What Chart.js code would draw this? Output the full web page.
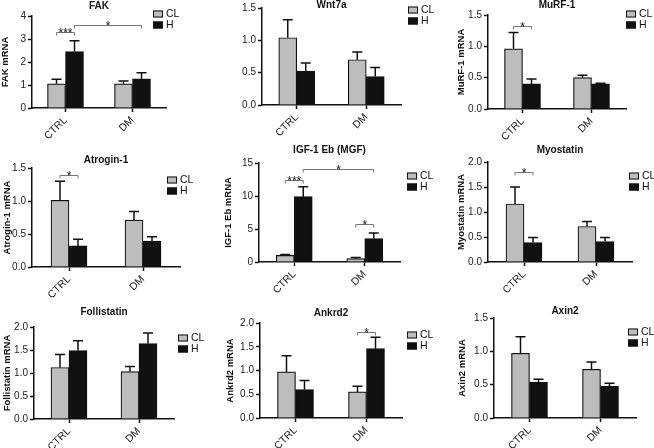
<!DOCTYPE html>
<html>
<head>
<meta charset="utf-8">
<script src="https://cdn.jsdelivr.net/npm/chart.js@4.4.1/dist/chart.umd.min.js"></script>
<style>
  body { margin: 0; background: #fff; }
  #wrap { position: relative; width: 654px; height: 448px; overflow: hidden; }
  canvas { position: absolute; }
</style>
</head>
<body>
<div id="wrap"></div>
<script>
// ---- data ----
const groups = ['CTRL', 'DM'];
const seriesNames = ['CL', 'H'];
const titles = ['FAK', 'Wnt7a', 'MuRF-1', 'Atrogin-1', 'IGF-1 Eb (MGF)', 'Myostatin', 'Follistatin', 'Ankrd2', 'Axin2'];
const yTitles = ['FAK mRNA', '', 'MuRF-1 mRNA', 'Atrogin-1 mRNA', 'IGF-1 Eb mRNA', 'Myostatin mRNA', 'Follistatin mRNA', 'Ankrd2 mRNA', 'Axin2 mRNA'];

// means per panel: [CTRL, DM]
const clMeans = [[1.05, 1.05], [1.04, 0.70], [0.96, 0.50], [1.01, 0.71], [1.0, 0.5], [1.16, 0.71], [1.12, 1.03], [0.97, 0.55], [0.97, 0.73]];
const hMeans  = [[2.45, 1.27], [0.525, 0.44], [0.40, 0.40], [0.32, 0.39], [9.9, 3.55], [0.39, 0.41], [1.49, 1.64], [0.60, 1.46], [0.54, 0.48]];
// SEM (upper error bar length)
const clSem = [[0.20, 0.12], [0.28, 0.12], [0.26, 0.04], [0.29, 0.13], [0.15, 0.2], [0.34, 0.10], [0.28, 0.11], [0.34, 0.12], [0.25, 0.11]];
const hSem  = [[0.47, 0.26], [0.125, 0.14], [0.08, 0.01], [0.10, 0.07], [1.5, 0.85], [0.10, 0.08], [0.21, 0.23], [0.19, 0.24], [0.04, 0.04]];

const yMax = [4, 1.5, 1.5, 1.5, 15, 2, 2, 2, 1.5];
const yStep = [1, 0.5, 0.5, 0.5, 5, 0.5, 0.5, 0.5, 0.5];
const yDecimals = [0, 1, 1, 1, 0, 1, 1, 1, 1];

// significance: [panel, fromGroup, fromSeries, toGroup, toSeries, height, label]
const brackets = [
  [0, 0, 0, 0, 1, 3.3, '***'],
  [0, 0, 1, 1, 1, 3.6, '*'],
  [2, 0, 0, 0, 1, 1.32, '*'],
  [3, 0, 0, 0, 1, 1.39, '*'],
  [4, 0, 0, 0, 1, 12.5, '***'],
  [4, 0, 1, 1, 1, 14.1, '*'],
  [4, 1, 0, 1, 1, 5.8, '*'],
  [5, 0, 0, 0, 1, 1.8, '*'],
  [7, 1, 0, 1, 1, 1.81, '*']
];

// ---- layout (page pixels) ----
// canvases overlap slightly so rotated labels are not clipped
const cells = [[0, 0, 220, 158], [220, 0, 214, 158], [434, 0, 220, 158],
               [0, 145, 220, 160], [220, 145, 214, 160], [434, 145, 220, 160],
               [0, 295, 220, 153], [220, 295, 214, 153], [434, 295, 220, 153]];
// plot area: left, right, top, bottom
const plots = [[32, 166, 16, 108], [262, 401, 7, 105], [488, 626, 15, 109],
               [32, 180, 168, 267], [259, 400, 163, 262], [488, 632, 162, 262],
               [34, 174, 327, 419], [260, 402, 323, 418], [494, 636, 318, 418]];
const titleY = [6, 5, 5, 160, 150, 150, 312, 313, 311];
const yTitleX = [5, 0, 461, 7, 228, 461, 7, 230, 462];
const legendPos = [[153, 14], [408, 10], [626, 14], [167, 180], [407, 176], [629, 176], [178, 338], [407, 335], [628, 332]];

const font = '"Liberation Sans", Arial, sans-serif';
const grey = '#bdbdbd';
const ink = '#111';

const extras = {
  id: 'extras',
  afterDatasetsDraw(chart, args, opts) {
    const p = opts.panel;
    const ctx = chart.ctx;
    const y = chart.scales.y;
    const area = chart.chartArea;
    const [x0, y0] = cells[p];
    ctx.save();

    // error bars
    ctx.strokeStyle = ink;
    ctx.lineWidth = 1.5;
    chart.data.datasets.forEach((ds, di) => {
      chart.getDatasetMeta(di).data.forEach((bar, i) => {
        const top = y.getPixelForValue(ds.data[i] + ds.sem[i]);
        ctx.beginPath();
        ctx.moveTo(bar.x, bar.y);
        ctx.lineTo(bar.x, top);
        ctx.moveTo(bar.x - 5, top);
        ctx.lineTo(bar.x + 5, top);
        ctx.stroke();
      });
    });

    // brackets
    brackets.filter(b => b[0] === p).forEach(b => {
      const a = chart.getDatasetMeta(b[2]).data[b[1]];
      const c = chart.getDatasetMeta(b[4]).data[b[3]];
      const yy = Math.round(y.getPixelForValue(b[5])) + 0.5;
      ctx.strokeStyle = '#777';
      ctx.lineWidth = 1;
      ctx.beginPath();
      ctx.moveTo(a.x, yy + 3);
      ctx.lineTo(a.x, yy);
      ctx.lineTo(c.x, yy);
      ctx.lineTo(c.x, yy + 3);
      ctx.stroke();
      ctx.fillStyle = ink;
      ctx.font = '12px ' + font;
      ctx.textAlign = 'center';
      ctx.textBaseline = 'alphabetic';
      ctx.fillText(b[6], (a.x + c.x) / 2, yy + 4);
    });

    // title
    ctx.fillStyle = ink;
    ctx.font = 'bold 10px ' + font;
    ctx.textAlign = 'center';
    ctx.textBaseline = 'middle';
    ctx.fillText(titles[p], (area.left + area.right) / 2, titleY[p] - y0);

    // legend
    const [lx, ly] = legendPos[p];
    ctx.font = '10.5px ' + font;
    ctx.textAlign = 'left';
    seriesNames.forEach((name, i) => {
      const cy = ly - y0 + i * 11;
      ctx.fillStyle = i === 0 ? grey : ink;
      ctx.fillRect(lx - x0, cy - 3.5, 10, 7);
      ctx.strokeStyle = ink;
      ctx.lineWidth = 1;
      ctx.strokeRect(lx - x0 + 0.5, cy - 3, 9, 6);
      ctx.fillStyle = ink;
      ctx.fillText(name, lx - x0 + 13, cy + 0.5);
    });
    ctx.restore();
  }
};

const wrap = document.getElementById('wrap');
titles.forEach((t, p) => {
  const [x0, y0, w, h] = cells[p];
  const [pl, pr, pt, pb] = plots[p];
  const canvas = document.createElement('canvas');
  canvas.width = w;
  canvas.height = h;
  canvas.style.left = x0 + 'px';
  canvas.style.top = y0 + 'px';
  wrap.appendChild(canvas);

  const padLeft = yTitles[p] ? Math.max(0, yTitleX[p] - x0 - 5.7) : 0;

  new Chart(canvas, {
    type: 'bar',
    data: {
      labels: groups,
      datasets: [
        { label: seriesNames[0], data: clMeans[p], sem: clSem[p], backgroundColor: grey, borderColor: ink, borderWidth: 1.2 },
        { label: seriesNames[1], data: hMeans[p], sem: hSem[p], backgroundColor: ink, borderColor: ink, borderWidth: 1.2 }
      ]
    },
    options: {
      responsive: false,
      animation: false,
      layout: { padding: { top: pt - y0, right: x0 + w - pr, bottom: 0, left: padLeft } },
      datasets: { bar: { barThickness: 18, categoryPercentage: 0.75 } },
      plugins: { legend: { display: false }, tooltip: { enabled: false }, extras: { panel: p } },
      scales: {
        x: {
          offset: true,
          grid: { offset: false, drawOnChartArea: false, color: ink, tickLength: 4, tickWidth: 1.5 },
          border: { color: ink, width: 1.5 },
          ticks: { minRotation: 45, maxRotation: 45, color: '#222', padding: 2, font: { family: font, size: 10.5 } },
          afterFit: s => { s.height = y0 + h - pb; }
        },
        y: {
          min: 0,
          max: yMax[p],
          grid: { drawOnChartArea: false, color: ink, tickLength: 4, tickWidth: 1.5 },
          border: { color: ink, width: 1.5 },
          ticks: { stepSize: yStep[p], color: '#222', padding: 2, font: { family: font, size: 10 },
                   callback: v => v.toFixed(yDecimals[p]) },
          title: { display: !!yTitles[p], text: yTitles[p], color: ink, padding: 0,
                   font: { family: font, size: 9.5, weight: 'bold' } },
          afterFit: s => { s.width = pl - x0 - padLeft; }
        }
      }
    },
    plugins: [extras]
  });
});
</script>
</body>
</html>
